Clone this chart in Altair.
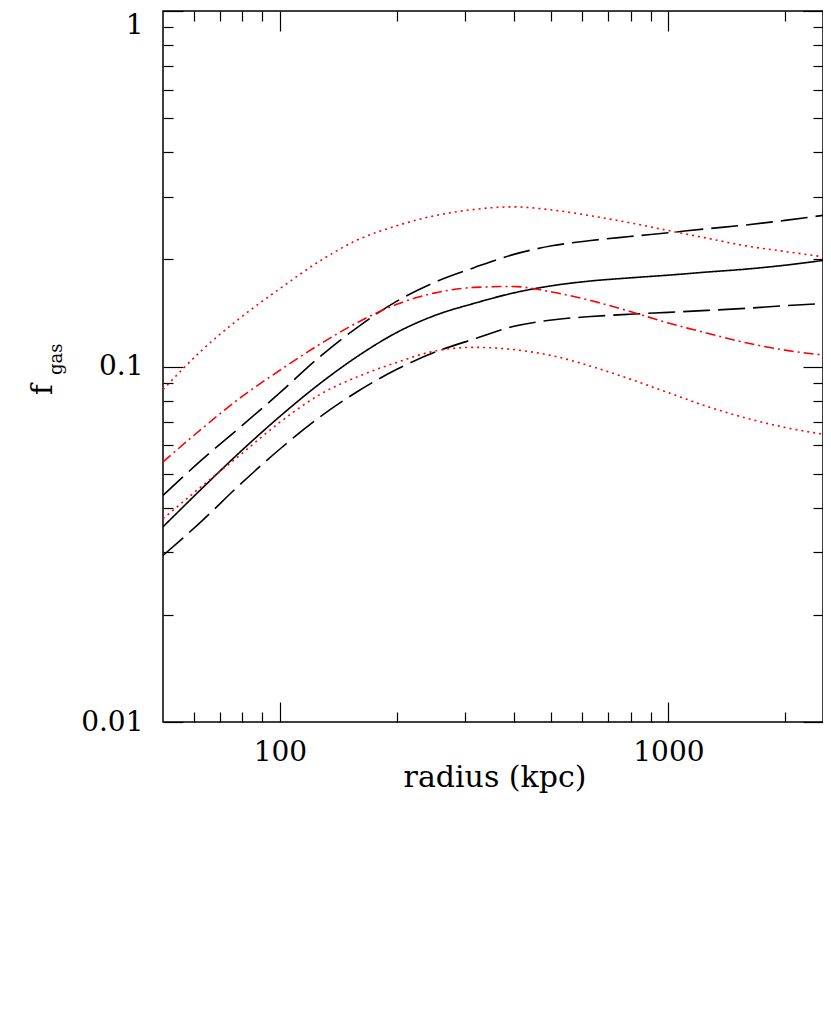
import altair as alt
import pandas as pd

# ---- data (f_gas versus radius in kpc) ----
radius = [50, 63, 79, 100, 126, 158, 200, 251, 316, 398, 501, 631, 794, 1000, 1259, 1585, 1995, 2500]

fgas_best = [0.0354, 0.0454, 0.0575, 0.0724, 0.0891, 0.1066, 0.1247, 0.1393, 0.1505, 0.1609,
             0.1687, 0.1740, 0.1775, 0.1807, 0.1844, 0.1879, 0.1927, 0.1988]
fgas_best_hi = [0.0434, 0.0547, 0.0675, 0.0844, 0.1060, 0.1287, 0.1527, 0.1728, 0.1897, 0.2064,
                0.2185, 0.2261, 0.2320, 0.2378, 0.2441, 0.2501, 0.2576, 0.2661]
fgas_best_lo = [0.0294, 0.0368, 0.0466, 0.0586, 0.0718, 0.0849, 0.0982, 0.1098, 0.1195, 0.1295,
                0.1352, 0.1382, 0.1403, 0.1420, 0.1438, 0.1458, 0.1483, 0.1503]
fgas_model = [0.0539, 0.0669, 0.0816, 0.0976, 0.1151, 0.1328, 0.1497, 0.1611, 0.1669, 0.1679,
              0.1620, 0.1533, 0.1430, 0.1325, 0.1241, 0.1166, 0.1112, 0.1077]
fgas_model_hi = [0.0861, 0.1112, 0.1370, 0.1656, 0.1973, 0.2268, 0.2488, 0.2658, 0.2766, 0.2812,
                 0.2757, 0.2655, 0.2538, 0.2412, 0.2295, 0.2184, 0.2107, 0.2035]
fgas_model_lo = [0.0373, 0.0461, 0.0564, 0.0697, 0.0831, 0.0935, 0.1027, 0.1106, 0.1132, 0.1116,
                 0.1073, 0.1002, 0.0923, 0.0844, 0.0772, 0.0716, 0.0674, 0.0645]

series_names = ["best", "best_hi", "best_lo", "model", "model_hi", "model_lo"]
series_values = [fgas_best, fgas_best_hi, fgas_best_lo, fgas_model, fgas_model_hi, fgas_model_lo]
series_colors = ["black", "black", "black", "#ff0000", "#ff0000", "#ff0000"]
series_dashes = [[1, 0], [27, 8], [27, 8], [10, 4, 2, 4], [2, 4], [2, 4]]

x_major = [100, 1000]
x_minor = [60, 70, 80, 90, 200, 300, 400, 500, 600, 700, 800, 900, 2000]
y_major = [0.01, 0.1, 1]
y_minor = [0.02, 0.03, 0.04, 0.05, 0.06, 0.07, 0.08, 0.09,
           0.2, 0.3, 0.4, 0.5, 0.6, 0.7, 0.8, 0.9]

rows = []
for name, vals in zip(series_names, series_values):
    for r, v in zip(radius, vals):
        rows.append({"radius": r, "fgas": v, "series": name})
df = pd.DataFrame(rows)

W, H = 660, 711
FONT = "DejaVu Serif"

xscale = alt.Scale(type="log", domain=[50, 2500], nice=False)
yscale = alt.Scale(type="log", domain=[0.01, 1], nice=False)


def tick_axis(orient, offset, values, size):
    return alt.Axis(orient=orient, offset=offset, values=values, ticks=True,
                    tickSize=size, tickColor="black", tickWidth=1.2,
                    labels=False, domain=False, grid=False, title=None)


lines = alt.Chart(df).mark_line(strokeWidth=1.6, interpolate="monotone").encode(
    x=alt.X("radius:Q", scale=xscale,
            axis=alt.Axis(orient="bottom", values=x_major, format="~g",
                          labelFont=FONT, labelFontSize=28, labelColor="black",
                          labelPadding=16, ticks=False, tickSize=0, domain=False,
                          grid=False, title=None, labelFlush=False, labelOverlap=False)),
    y=alt.Y("fgas:Q", scale=yscale,
            axis=alt.Axis(orient="left", values=y_major, format="~g",
                          labelFont=FONT, labelFontSize=28, labelColor="black",
                          labelPadding=20, ticks=False, tickSize=0, domain=False,
                          grid=False, title=None, labelFlush=False, labelOverlap=False,
                          labelOffset={"condition": {"test": "datum.value >= 1", "value": 14},
                                       "value": 0})),
    color=alt.Color("series:N", scale=alt.Scale(domain=series_names, range=series_colors), legend=None),
    strokeDash=alt.StrokeDash("series:N", scale=alt.Scale(domain=series_names, range=series_dashes), legend=None),
    detail="series:N",
)


def ghost(xaxis, yaxis):
    return alt.Chart(df).mark_point(opacity=0).encode(
        x=alt.X("radius:Q", scale=xscale, axis=xaxis),
        y=alt.Y("fgas:Q", scale=yscale, axis=yaxis),
    )


# inward ticks on all four sides
g1 = ghost(tick_axis("top", -H, x_major, 20), tick_axis("right", -W, y_major, 20))
g2 = ghost(tick_axis("top", -H, x_minor, 10), tick_axis("right", -W, y_minor, 10))
g3 = ghost(tick_axis("bottom", -H, x_major, 20), tick_axis("left", -W, y_major, 20))
g4 = ghost(tick_axis("bottom", -H, x_minor, 10), tick_axis("left", -W, y_minor, 10))

xtitle = alt.Chart(pd.DataFrame({"t": ["radius (kpc)"]})).mark_text(
    font=FONT, fontSize=30, align="center", baseline="alphabetic", color="black"
).encode(text="t:N", x=alt.value(W / 2 + 2), y=alt.value(776))

ytitle_f = alt.Chart(pd.DataFrame({"t": ["f"]})).mark_text(
    font=FONT, fontSize=29, align="left", baseline="alphabetic", angle=270, color="black"
).encode(text="t:N", x=alt.value(-111), y=alt.value(384))

ytitle_gas = alt.Chart(pd.DataFrame({"t": ["gas"]})).mark_text(
    font=FONT, fontSize=18, align="left", baseline="alphabetic", angle=270, color="black"
).encode(text="t:N", x=alt.value(-101), y=alt.value(364))

chart = alt.layer(lines, g1, g2, g3, g4, xtitle, ytitle_f, ytitle_gas).resolve_axis(
    x="independent", y="independent"
).properties(
    width=W, height=H,
    autosize=alt.AutoSizeParams(type="none"),
    padding={"left": 155, "top": 3, "right": 0, "bottom": 100},
).configure_view(stroke="black", strokeWidth=1.5)

chart.save("out.html", embed_options={"renderer": "svg", "actions": False})
